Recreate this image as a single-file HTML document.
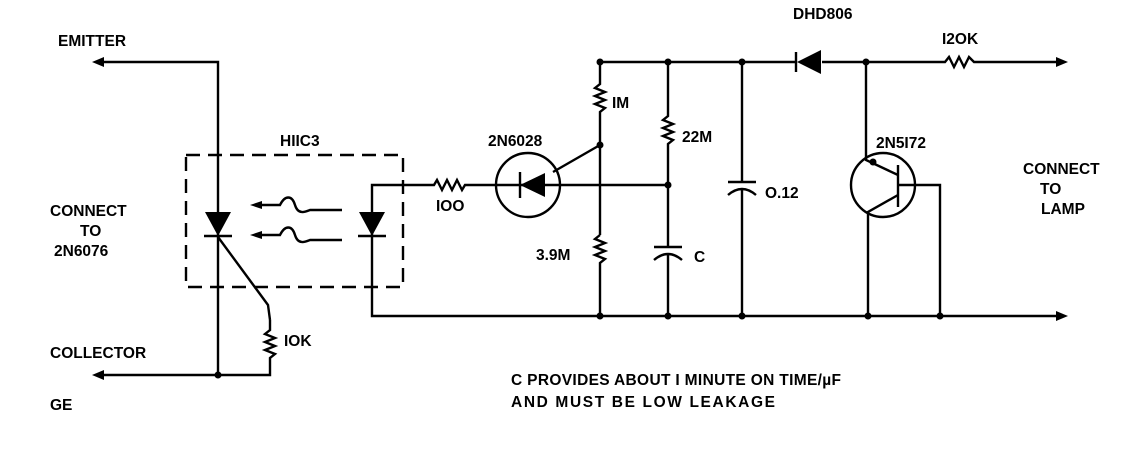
<!DOCTYPE html>
<html><head><style>body{margin:0;background:#fff}svg{display:block}text{font-family:"Liberation Sans",sans-serif;font-weight:bold;font-size:15.5px;fill:#000}</style></head>
<body>
<svg width="1127" height="453" viewBox="0 0 1127 453" xmlns="http://www.w3.org/2000/svg">
<g stroke="#000" stroke-width="2.4" fill="none">
<polyline points="100,62 218,62 218,375 100,375"/>
<polyline points="218,237 268,305 270,320"/>
<polyline points="270,320 270,330 265,334 275,338 265,342 275,346 265,350 275,354 270,358 270,375 218,375"/>
<rect x="186" y="155" width="217" height="132" stroke-dasharray="14,8"/>
<line x1="204" y1="236" x2="232" y2="236"/>
<path d="M258,205 H280 C285,195 292,195 295,205 C298,215 305,212 310,210 H342"/>
<path d="M258,235 H280 C285,225 292,225 295,235 C298,245 305,242 310,240 H342"/>
<polyline points="420,185 372,185 372,316 1060,316"/>
<line x1="358" y1="236" x2="386" y2="236"/>
<polyline points="420,185 434,185 437,180 442,190 447,180 452,190 457,180 462,190 465,185 600,185"/>
<circle cx="528" cy="185" r="32"/>
<line x1="520" y1="172" x2="520" y2="198"/>
<line x1="553" y1="172" x2="600" y2="145"/>
<line x1="600" y1="62" x2="795" y2="62"/>
<line x1="822" y1="62" x2="940" y2="62"/>
<polyline points="940,62 945,62 949,57 954,67 959,57 964,67 969,57 974,62 1060,62"/>
<line x1="796" y1="52" x2="796" y2="72"/>
<polyline points="600,62 600,84 595,88 605,92 595,96 605,100 595,104 605,108 600,112 600,235"/>
<polyline points="600,235 595,239 605,243 595,247 605,251 595,255 605,259 600,263 600,316"/>
<polyline points="668,62 668,116 663,120 673,124 663,128 673,132 663,136 673,140 668,144 668,247"/>
<line x1="654" y1="247" x2="682" y2="247"/>
<path d="M654,260 Q668,248 682,260"/>
<line x1="668" y1="253" x2="668" y2="316"/>
<line x1="600" y1="185" x2="668" y2="185"/>
<line x1="742" y1="62" x2="742" y2="182"/>
<line x1="728" y1="182" x2="756" y2="182"/>
<path d="M728,195 Q742,183 756,195"/>
<line x1="742" y1="188" x2="742" y2="316"/>
<circle cx="883" cy="185" r="32"/>
<polyline points="866,62 866,160 898,175"/>
<line x1="898" y1="165" x2="898" y2="207"/>
<polyline points="898,195 868,212 868,316"/>
<polyline points="898,185 940,185 940,316"/>
</g>
<g fill="#000">
<polygon points="92,62 104,57 104,67"/>
<polygon points="92,375 104,370 104,380"/>
<polygon points="1068,62 1056,57 1056,67"/>
<polygon points="1068,316 1056,311 1056,321"/>
<polygon points="250,205 262,201 262,209"/>
<polygon points="250,235 262,231 262,239"/>
<polygon points="205,212 231,212 218,236"/>
<polygon points="359,212 385,212 372,236"/>
<polygon points="520,185 545,173 545,197"/>
<polygon points="797,62 821,50 821,74"/>
<circle cx="218" cy="375" r="3.5"/>
<circle cx="600" cy="62" r="3.5"/><circle cx="668" cy="62" r="3.5"/><circle cx="742" cy="62" r="3.5"/><circle cx="866" cy="62" r="3.5"/>
<circle cx="600" cy="145" r="3.5"/><circle cx="668" cy="185" r="3.5"/><circle cx="873" cy="162" r="3.5"/>
<circle cx="600" cy="316" r="3.5"/><circle cx="668" cy="316" r="3.5"/><circle cx="742" cy="316" r="3.5"/><circle cx="868" cy="316" r="3.5"/><circle cx="940" cy="316" r="3.5"/>
</g>
<text x="58" y="46">EMITTER</text>
<text x="50" y="216">CONNECT</text>
<text x="80" y="236">TO</text>
<text x="54" y="256">2N6076</text>
<text x="50" y="358">COLLECTOR</text>
<text x="50" y="410">GE</text>
<text x="280" y="146">HIIC3</text>
<text x="284" y="346">IOK</text>
<text x="436" y="211">IOO</text>
<text x="488" y="146">2N6028</text>
<text x="612" y="108">IM</text>
<text x="682" y="142">22M</text>
<text x="536" y="260">3.9M</text>
<text x="694" y="262">C</text>
<text x="765" y="198">O.12</text>
<text x="793" y="19">DHD806</text>
<text x="942" y="44">I2OK</text>
<text x="876" y="148">2N5I72</text>
<text x="1023" y="174">CONNECT</text>
<text x="1040" y="194">TO</text>
<text x="1041" y="214">LAMP</text>
<text x="511" y="385" textLength="330" font-size="16">C PROVIDES ABOUT I MINUTE ON TIME/µF</text>
<text x="511" y="407" textLength="264" font-size="16">AND MUST BE LOW LEAKAGE</text>
</svg>
</body></html>
